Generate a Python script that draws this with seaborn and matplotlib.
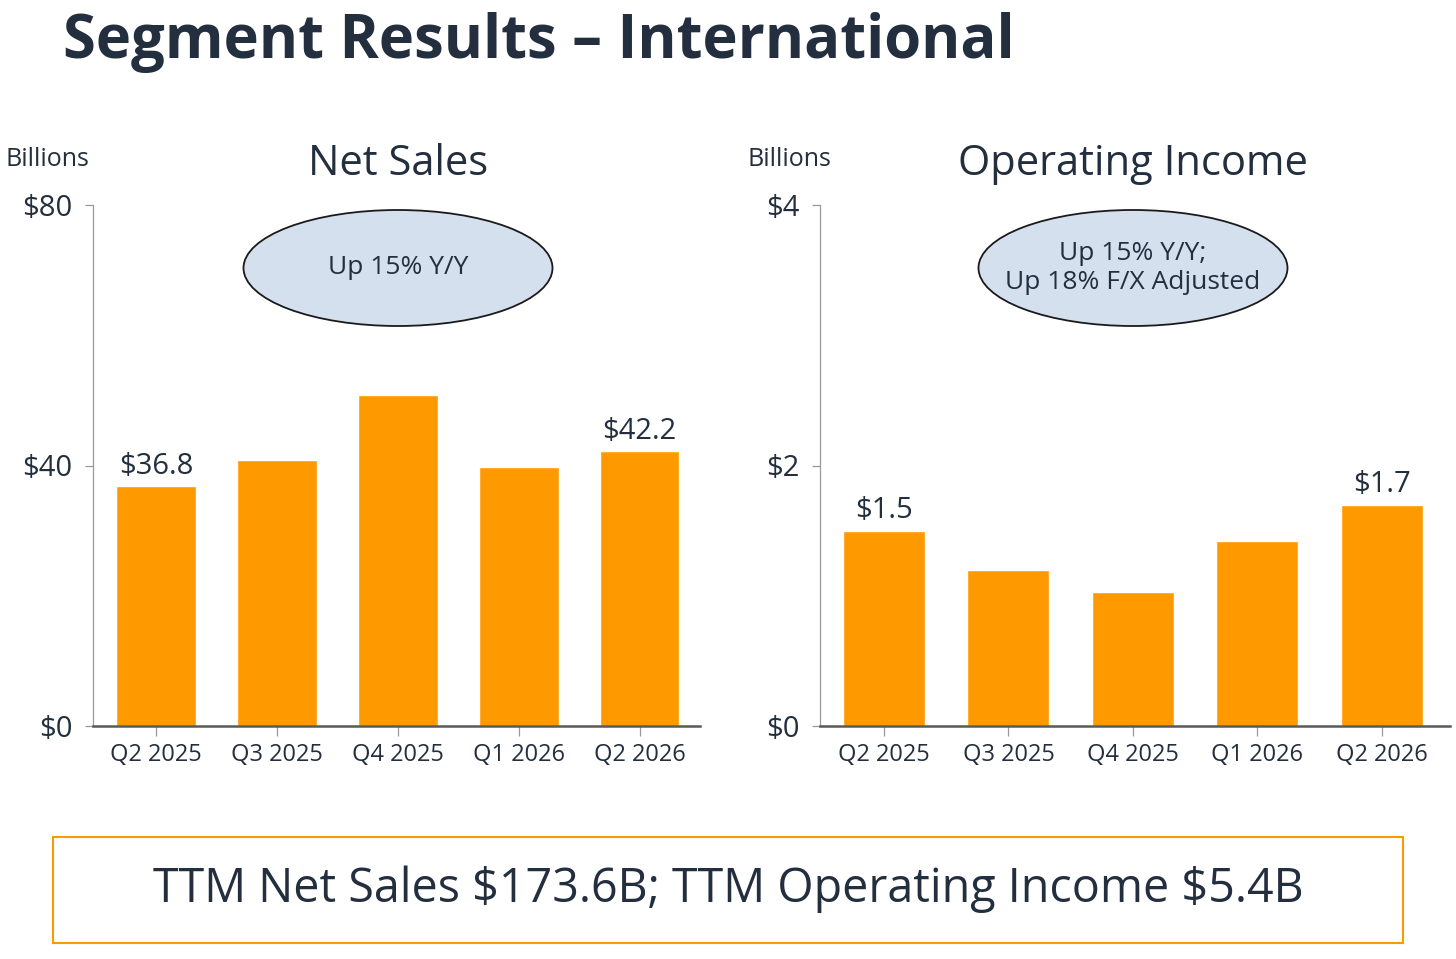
import numpy as np
import pandas as pd
import matplotlib
matplotlib.use('Agg')
import matplotlib.pyplot as plt
import seaborn as sns
from matplotlib.patches import Ellipse, Rectangle

quarters = ['Q2 2025', 'Q3 2025', 'Q4 2025', 'Q1 2026', 'Q2 2026']
net_sales = [36.8, 40.8, 50.8, 39.8, 42.2]
op_income = [1.5, 1.2, 1.03, 1.42, 1.7]
sales_ticks = [0, 40, 80]
income_ticks = [0, 2, 4]

NAVY = '#232F3E'
ORANGE = '#FF9900'
BUBBLE = '#D5E0EF'

sns.set_theme(style='white')
plt.rcParams['font.family'] = ['Open Sans', 'DejaVu Sans']
plt.rcParams['text.parse_math'] = False

fig = plt.figure(figsize=(14.56, 9.59), dpi=100)
W, H = 1456.0, 959.0


def px(x0, y0, x1, y1):
    return [x0 / W, 1 - y1 / H, (x1 - x0) / W, (y1 - y0) / H]


def panel(ax, values, ticks, xlim, bubble_text, bubble_center):
    df = pd.DataFrame({'quarter': quarters, 'value': values})
    sns.barplot(data=df, x='quarter', y='value', color=ORANGE, saturation=1,
                width=0.66, ax=ax)
    ax.set_xlim(*xlim)
    ax.set_ylim(ticks[0], ticks[-1])
    ax.set_yticks(ticks)
    ax.set_yticklabels(['$' + str(t) for t in ticks])
    ax.set_xlabel('')
    ax.set_ylabel('')
    for side in ['top', 'right']:
        ax.spines[side].set_visible(False)
    ax.spines['left'].set_color('#9A9A9A')
    ax.spines['left'].set_linewidth(0.9)
    ax.spines['bottom'].set_color('#595959')
    ax.spines['bottom'].set_linewidth(1.8)
    ax.tick_params(axis='y', left=True, length=6, width=0.9, color='#9A9A9A',
                   labelsize=21, labelcolor=NAVY, pad=9)
    ax.tick_params(axis='x', bottom=True, length=7, width=0.9, color='#9A9A9A',
                   labelsize=17, labelcolor=NAVY, pad=5)
    for i in [0, len(values) - 1]:
        ax.annotate('${:.1f}'.format(values[i]), (i, values[i]),
                    xytext=(0, 4), textcoords='offset points',
                    ha='center', va='bottom', fontsize=21, color=NAVY)
    cx, cy = bubble_center
    fig.patches.append(Ellipse((cx / W, 1 - cy / H), 309 / W, 116 / H,
                               transform=fig.transFigure, facecolor=BUBBLE,
                               edgecolor='#1A1A1A', linewidth=1.3, zorder=5))
    fig.text(cx / W, 1 - cy / H, bubble_text, ha='center', va='center',
             fontsize=19, color=NAVY, linespacing=1.25, zorder=6)


ax1 = fig.add_axes(px(93, 205, 700, 726))
ax2 = fig.add_axes(px(820, 205, 1450, 726))

panel(ax1, net_sales, sales_ticks, (-0.52, 4.5),
      'Up 15% Y/Y', (398, 268))
panel(ax2, op_income, income_ticks, (-0.515, 4.55),
      'Up 15% Y/Y;\nUp 18% F/X Adjusted', (1133, 268))

fig.text(63 / W, 1 - 58 / H, 'Segment Results \u2013 International',
         ha='left', va='baseline', fontsize=43, fontweight='bold', color=NAVY)

fig.text(398 / W, 1 - 164 / H, 'Net Sales', ha='center', va='center',
         fontsize=30, color=NAVY)
fig.text(1133 / W, 1 - 164 / H, 'Operating Income', ha='center', va='center',
         fontsize=30, color=NAVY)
fig.text(5 / W, 1 - 160 / H, 'Billions', ha='left', va='center',
         fontsize=18, color=NAVY)
fig.text(748 / W, 1 - 160 / H, 'Billions', ha='left', va='center',
         fontsize=18, color=NAVY)

fig.patches.append(Rectangle((53 / W, 1 - 943 / H), (1403 - 53) / W,
                             (943 - 837) / H, transform=fig.transFigure,
                             facecolor='white', edgecolor=ORANGE,
                             linewidth=1.5))
fig.text(728 / W, 1 - 889 / H,
         'TTM Net Sales $173.6B; TTM Operating Income $5.4B',
         ha='center', va='center', fontsize=33.6, color=NAVY)

fig.savefig('out.png', dpi=100, facecolor='white')
